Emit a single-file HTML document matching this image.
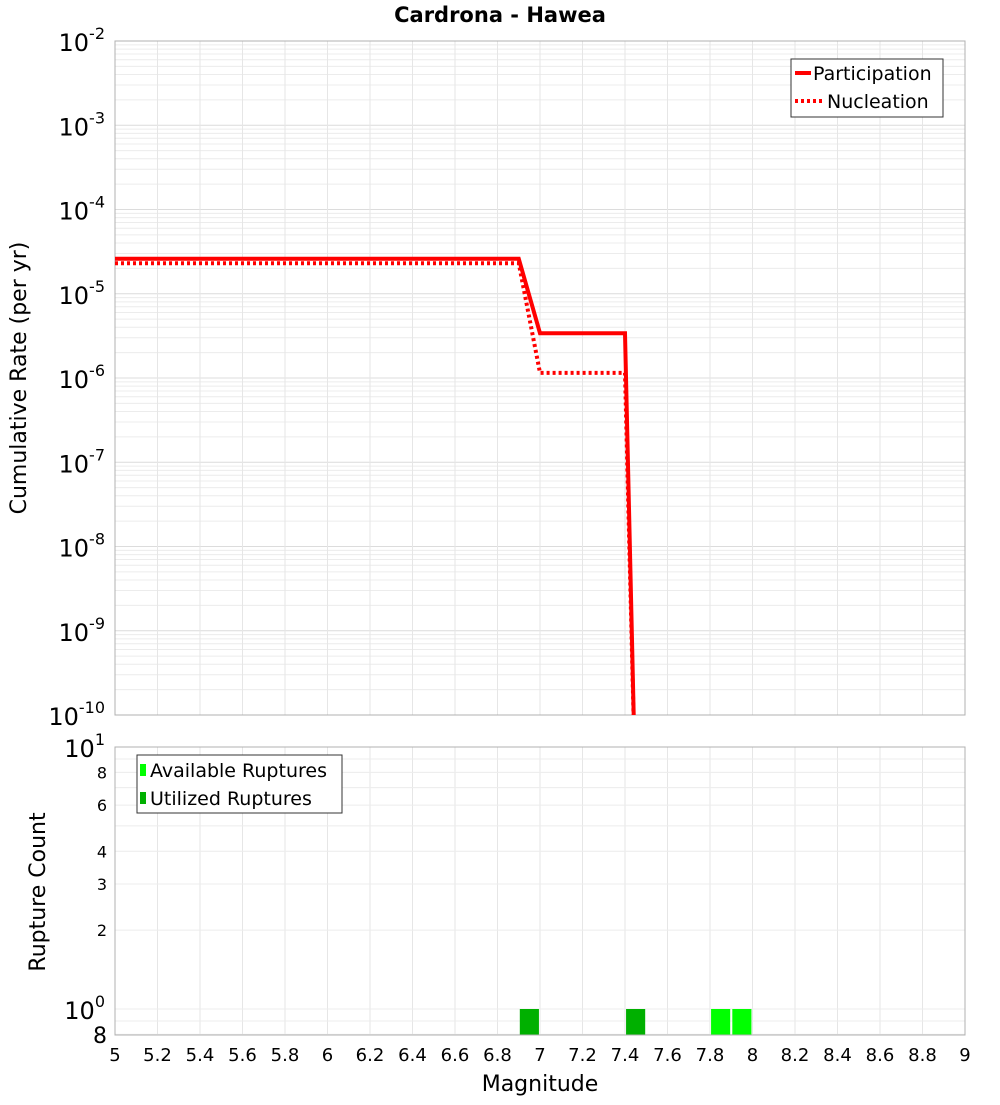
<!DOCTYPE html>
<html><head><meta charset="utf-8"><style>
body{margin:0;background:#fff;font-family:"Liberation Sans","DejaVu Sans",sans-serif}
svg text{font-family:"DejaVu Sans","Liberation Sans",sans-serif}
</style></head><body>
<svg id="c" width="1000" height="1100" viewBox="0 0 1000 1100" xmlns="http://www.w3.org/2000/svg">
<text x="500" y="22" text-anchor="middle" font-size="21" font-weight="bold">Cardrona - Hawea</text>
<g id="topg"></g><g id="botg"></g>
</svg>
<script>
const magTicks=[5,5.2,5.4,5.6,5.8,6,6.2,6.4,6.6,6.8,7,7.2,7.4,7.6,7.8,8,8.2,8.4,8.6,8.8,9];
const rateDecades=[-2,-3,-4,-5,-6,-7,-8,-9,-10];
const partMag=[5,6.9,7.0,7.4,7.45];
const partRate=[2.6e-5,2.6e-5,3.4e-6,3.4e-6,1e-11];
const nuclMag=[5,6.9,7.0,7.4,7.45];
const nuclRate=[2.3e-5,2.3e-5,1.15e-6,1.15e-6,1e-11];
const utilBins=[6.95,7.45];
const utilCounts=[1,1];
const availBins=[7.85,7.95];
const availCounts=[1,1];
const countTicks=[8,6,4,3,2];

const NS="http://www.w3.org/2000/svg";
const L=115,R=965,T1=41,B1=715,T2=747,B2=1035;
const xs=m=>L+(m-5)/4*(R-L);
const y1=v=>T1+(-2-Math.log10(v))*(B1-T1)/8;
const y2=v=>T2+(1-Math.log10(v))*262;
function mk(p,tag,a,txt){const e=document.createElementNS(NS,tag);for(const k in a)e.setAttribute(k,a[k]);if(txt!=null)e.textContent=txt;p.appendChild(e);return e;}
const topG=document.getElementById('topg'),botG=document.getElementById('botg');

for(let d=-10;d<-2;d++)for(let k=1;k<10;k++){const v=k*Math.pow(10,d);const yy=y1(v);if(yy<T1||yy>B1)continue;
 const g=mk(topG,'line',{x1:L,x2:R,y1:yy,y2:yy,stroke:k==1?'#dcdcdc':'#ececec','stroke-width':1});
 
 }
magTicks.forEach(m=>{const g=mk(topG,'line',{x1:xs(m),x2:xs(m),y1:T1,y2:B1,stroke:'#e6e6e6'});
 
 
 const h=mk(botG,'line',{x1:xs(m),x2:xs(m),y1:T2,y2:B2,stroke:'#e6e6e6'});
 
 });
let f=mk(topG,'rect',{x:L,y:T1,width:R-L,height:B1-T1,fill:'none',stroke:'#b0b0b0'});


rateDecades.forEach(d=>{const t=mk(topG,'text',{x:L-10,y:y1(Math.pow(10,d))+10,'text-anchor':'end','font-size':24});
 
 
 t.textContent='10';mk(t,'tspan',{dy:-12,'font-size':16},String(d));});
let yt=mk(topG,'text',{transform:'translate(26,378) rotate(-90)','text-anchor':'middle','font-size':22},'Cumulative Rate (per yr)');



const defs=mk(topG,'clipPath',{id:'cp'});mk(defs,'rect',{x:L,y:T1,width:R-L,height:B1-T1});
function line(ms,vs,dash,name){const p=ms.map((m,i)=>xs(m)+','+y1(vs[i])).join(' ');
 const e=mk(topG,'polyline',{points:p,fill:'none',stroke:'#ff0000','stroke-width':4,'clip-path':'url(#cp)'});
 if(dash)e.setAttribute('stroke-dasharray','3,3');
 
 }
line(nuclMag,nuclRate,true,'nucleation-line');
line(partMag,partRate,false,'participation-line');

const lg=mk(topG,'g',{});


mk(lg,'rect',{x:791,y:59,width:152,height:58,fill:'#fff',stroke:'#333'});
mk(lg,'line',{x1:795,x2:811,y1:73,y2:73,stroke:'#f00','stroke-width':4});
mk(lg,'text',{x:813,y:80,'font-size':19},'Participation');
mk(lg,'line',{x1:795,x2:822,y1:101,y2:101,stroke:'#f00','stroke-width':4,'stroke-dasharray':'3,3'});
mk(lg,'text',{x:827,y:108,'font-size':19},'Nucleation');

[10,9,8,7,6,5,4,3,2,1,0.9,0.8].forEach(v=>{const g=mk(botG,'line',{x1:L,x2:R,y1:y2(v),y2:y2(v),stroke:'#ececec'});
 
 });
function bars(bins,counts,col,name){bins.forEach((m,i)=>{const e=mk(botG,'rect',{x:xs(m-0.045),y:y2(counts[i]),width:xs(m+0.045)-xs(m-0.045),height:B2-y2(counts[i]),fill:col});
 
 });}
bars(utilBins,utilCounts,'#00b000','utilized-bar');
bars(availBins,availCounts,'#00ff00','available-bar');
f=mk(botG,'rect',{x:L,y:T2,width:R-L,height:B2-T2,fill:'none',stroke:'#b0b0b0'});


[[10,'1'],[1,'0']].forEach(([v,s])=>{const t=mk(botG,'text',{x:L-10,y:y2(v)+10,'text-anchor':'end','font-size':24});
 
 
 t.textContent='10';mk(t,'tspan',{dy:-12,'font-size':16},s);});
countTicks.forEach(v=>{const t=mk(botG,'text',{x:L-8,y:y2(v)+6,'text-anchor':'end','font-size':16},String(v));
 
 });
let t8=mk(botG,'text',{x:L-8,y:1043,'text-anchor':'end','font-size':22},'8');


yt=mk(botG,'text',{transform:'translate(45,892) rotate(-90)','text-anchor':'middle','font-size':22},'Rupture Count');


magTicks.forEach(m=>{const t=mk(botG,'text',{x:xs(m),y:1061,'text-anchor':'middle','font-size':18},String(m));
 
 });
let xt=mk(botG,'text',{x:540,y:1091,'text-anchor':'middle','font-size':22},'Magnitude');


const lg2=mk(botG,'g',{});


mk(lg2,'rect',{x:137,y:755,width:205,height:58,fill:'#fff',stroke:'#333'});
mk(lg2,'rect',{x:140,y:764,width:6,height:12,fill:'#00ff00'});
mk(lg2,'text',{x:150,y:777,'font-size':19},'Available Ruptures');
mk(lg2,'rect',{x:140,y:792,width:6,height:12,fill:'#00b000'});
mk(lg2,'text',{x:150,y:805,'font-size':19},'Utilized Ruptures');
</script>
</body></html>
